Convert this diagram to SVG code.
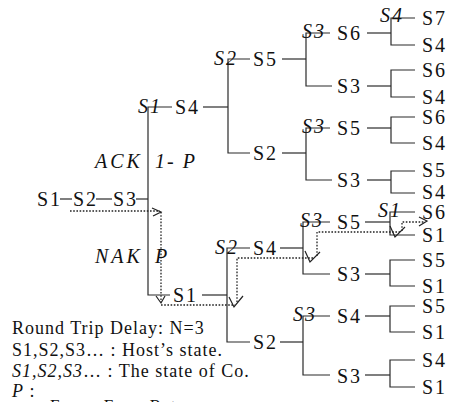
<svg xmlns="http://www.w3.org/2000/svg" width="453" height="402" viewBox="0 0 453 402">
<style>
text{font-family:"Liberation Serif","Times New Roman",serif;fill:#111}
.n{font-size:20px;letter-spacing:2px}
.i{font-size:20px;letter-spacing:2px;font-style:italic}
.lg{font-size:18px;letter-spacing:1px}
.c line,.c polyline{stroke:#2a2a2a;stroke-width:1.2;fill:none}
.d polyline{stroke:#222;stroke-width:1.3;fill:none;stroke-dasharray:1.6 1.6}
.a polyline{stroke:#222;stroke-width:1.2;fill:none}
</style>
<rect width="453" height="402" fill="#fff"/>
<g class="c" id="connectors">
<line x1="60" y1="199" x2="72" y2="199"/>
<line x1="96" y1="199" x2="112" y2="199"/>
<line x1="136" y1="199" x2="148" y2="199"/>
<polyline points="172,107 148,107 148,295 170,295"/>
<line x1="203" y1="107" x2="228" y2="107"/>
<polyline points="250,59 228,59 228,153 250,153"/>
<line x1="282" y1="59" x2="306" y2="59"/>
<line x1="282" y1="153" x2="306" y2="153"/>
<polyline points="330,33 306,33 306,86 332,86"/>
<line x1="367" y1="33" x2="391" y2="33"/>
<polyline points="415,18 391,18 391,45 415,45"/>
<line x1="367" y1="86" x2="391" y2="86"/>
<polyline points="415,70 391,70 391,97 415,97"/>
<polyline points="330,128 306,128 306,180 332,180"/>
<line x1="367" y1="128" x2="391" y2="128"/>
<polyline points="415,117 391,117 391,143 415,143"/>
<line x1="367" y1="180" x2="391" y2="180"/>
<polyline points="415,171 391,171 391,193 415,193"/>
<line x1="202" y1="295" x2="227" y2="295"/>
<polyline points="250,248 227,248 227,342 250,342"/>
<line x1="280" y1="248" x2="303" y2="248"/>
<line x1="280" y1="342" x2="303" y2="342"/>
<polyline points="330,222 303,222 303,274 330,274"/>
<line x1="365" y1="222" x2="390" y2="222"/>
<polyline points="415,212 390,212 390,235 415,235"/>
<line x1="365" y1="274" x2="390" y2="274"/>
<polyline points="415,260 390,260 390,286 415,286"/>
<polyline points="330,316 303,316 303,375 330,375"/>
<line x1="365" y1="316" x2="390" y2="316"/>
<polyline points="415,306 390,306 390,332 415,332"/>
<line x1="365" y1="375" x2="390" y2="375"/>
<polyline points="415,360 390,360 390,387 415,387"/>
</g>
<g class="d" id="retransmission-path">
<polyline points="70,211 160,211"/>
<polyline points="161,212 161,302"/>
<polyline points="161,305 235,305"/>
<polyline points="237,302 237,258 314,258"/>
<polyline points="317,256 317,232 400,232"/>
<polyline points="402,231 402,222 425,222"/>
</g>
<g class="a" id="arrowheads">
<polyline points="152,208 161,212 153,216"/>
<polyline points="156,296 161,303 165,296"/>
<polyline points="229,297 234,307 243,296"/>
<polyline points="305,251 310,262 320,252"/>
<polyline points="390,226 395,237 405,227"/>
<polyline points="419,217 427,221 419,226"/>
</g>
<g id="root-S1"><text class="n" x="37" y="206">S1</text></g>
<g id="root-S2"><text class="n" x="73" y="206">S2</text></g>
<g id="root-S3"><text class="n" x="113" y="206">S3</text></g>
<g id="lbl-ack"><text class="i" x="95" y="168" style="letter-spacing:3px">ACK</text><text class="i" x="155" y="168">1- P</text></g>
<g id="lbl-nak"><text class="i" x="95" y="263" style="letter-spacing:3px">NAK</text><text class="i" x="155" y="263">P</text></g>
<g id="co-S1a"><text class="i" x="138" y="113">S1</text></g>
<g id="n-S4a"><text class="n" x="175" y="114">S4</text></g>
<g id="co-S2a"><text class="i" x="214" y="65">S2</text></g>
<g id="n-S5a"><text class="n" x="253" y="66">S5</text></g>
<g id="n-S2a"><text class="n" x="253" y="160">S2</text></g>
<g id="co-S3a"><text class="i" x="302" y="38">S3</text></g>
<g id="n-S6a"><text class="n" x="337" y="40">S6</text></g>
<g id="co-S4a"><text class="i" x="380" y="22">S4</text></g>
<g id="n-S7"><text class="n" x="422" y="25">S7</text></g>
<g id="n-S4b"><text class="n" x="422" y="52">S4</text></g>
<g id="n-S3a"><text class="n" x="337" y="93">S3</text></g>
<g id="n-S6b"><text class="n" x="422" y="77">S6</text></g>
<g id="n-S4c"><text class="n" x="422" y="104">S4</text></g>
<g id="co-S3b"><text class="i" x="302" y="133">S3</text></g>
<g id="n-S5b"><text class="n" x="337" y="135">S5</text></g>
<g id="n-S6c"><text class="n" x="422" y="124">S6</text></g>
<g id="n-S4d"><text class="n" x="422" y="150">S4</text></g>
<g id="n-S3b"><text class="n" x="337" y="187">S3</text></g>
<g id="n-S5c"><text class="n" x="422" y="177">S5</text></g>
<g id="n-S4e"><text class="n" x="422" y="199">S4</text></g>
<g id="n-S1a"><text class="n" x="173" y="302">S1</text></g>
<g id="co-S2b"><text class="i" x="215" y="254">S2</text></g>
<g id="n-S4f"><text class="n" x="253" y="255">S4</text></g>
<g id="n-S2b"><text class="n" x="253" y="349">S2</text></g>
<g id="co-S3c"><text class="i" x="300" y="227">S3</text></g>
<g id="n-S5d"><text class="n" x="337" y="229">S5</text></g>
<g id="co-S1b"><text class="i" x="378" y="217">S1</text></g>
<g id="n-S6d"><text class="n" x="422" y="219">S6</text></g>
<g id="n-S1b"><text class="n" x="422" y="242">S1</text></g>
<g id="n-S3c"><text class="n" x="337" y="281">S3</text></g>
<g id="n-S5e"><text class="n" x="422" y="267">S5</text></g>
<g id="n-S1c"><text class="n" x="422" y="293">S1</text></g>
<g id="co-S3d"><text class="i" x="293" y="321">S3</text></g>
<g id="n-S4g"><text class="n" x="337" y="323">S4</text></g>
<g id="n-S5f"><text class="n" x="422" y="313">S5</text></g>
<g id="n-S1d"><text class="n" x="422" y="339">S1</text></g>
<g id="n-S3d"><text class="n" x="337" y="383">S3</text></g>
<g id="n-S4h"><text class="n" x="422" y="367">S4</text></g>
<g id="n-S1e"><text class="n" x="422" y="394">S1</text></g>
<g id="legend">
<text class="lg" x="12" y="334">Round Trip Delay: N=3</text>
<text class="lg" x="12" y="356">S1,S2,S3… : Host’s state.</text>
<text class="lg" x="12" y="377"><tspan font-style="italic">S1,S2,S3</tspan>… : The state of Co.</text>
<text class="lg" x="12" y="397"><tspan font-style="italic">P</tspan> :</text>
<text class="lg" x="50" y="411" style="font-size:17px">Frame Error Rate</text>
</g>
</svg>
